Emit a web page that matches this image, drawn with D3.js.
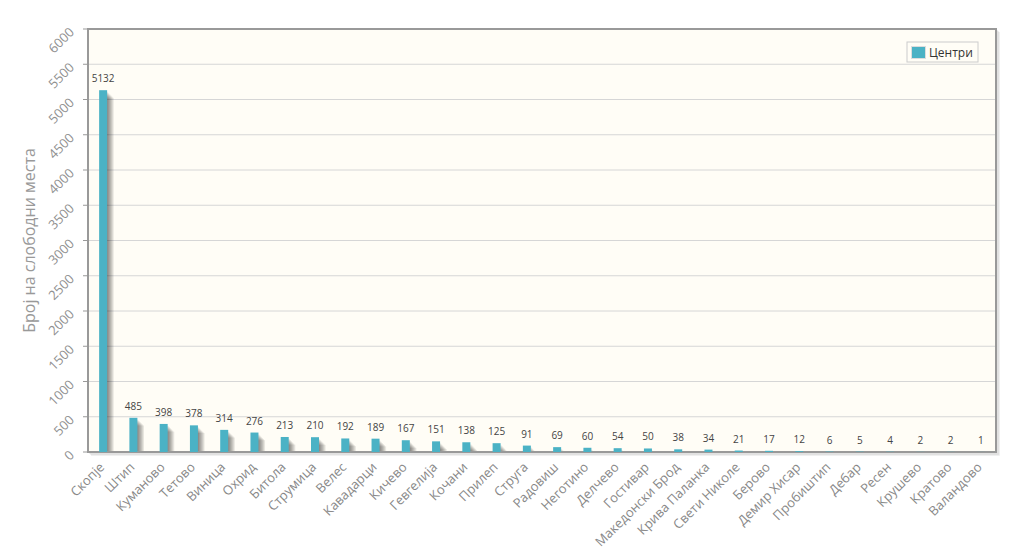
<!DOCTYPE html>
<html><head><meta charset="utf-8">
<script src="https://cdn.jsdelivr.net/npm/d3@7"></script>
<style>body{margin:0;background:#fff;} svg{display:block;font-family:"Open Sans",sans-serif;}</style>
</head><body><svg id="c" width="1024" height="550"></svg>
<script>
const categories = ["Скопје","Штип","Куманово","Тетово","Виница","Охрид","Битола","Струмица","Велес","Кавадарци","Кичево","Гевгелија","Кочани","Прилеп","Струга","Радовиш","Неготино","Делчево","Гостивар","Македонски Брод","Крива Паланка","Свети Николе","Берово","Демир Хисар","Пробиштип","Дебар","Ресен","Крушево","Кратово","Валандово"];
const values = [5132,485,398,378,314,276,213,210,192,189,167,151,138,125,91,69,60,54,50,38,34,21,17,12,6,5,4,2,2,1];
const yTicks = [0,500,1000,1500,2000,2500,3000,3500,4000,4500,5000,5500,6000];
const seriesName = "Центри";
const yTitle = "Број на слободни места";

const svg = d3.select("#c");
const L=88, T=29, R=996, B=452;
const x = d3.scaleBand().domain(categories).range([L,R]);
const y = d3.scaleLinear().domain([0,6000]).range([B,T]);
const color = "#4bb2c5";

// plot background
svg.append("rect").attr("x",L).attr("y",T).attr("width",R-L).attr("height",B-T).attr("fill","#fffdf6");

// grid
svg.append("g").selectAll("line").data(yTicks.slice(1,-1)).join("line")
  .attr("x1",L).attr("x2",R).attr("y1",d=>y(d)).attr("y2",d=>y(d))
  .attr("stroke","#d6d6d6").attr("stroke-width",1);

const bw = 8;
const cx = d => x(d)+x.bandwidth()/2;

// bar shadows
const sh = svg.append("g");
for(let i=1;i<=6;i++){
  sh.selectAll(null).data(categories).join("rect")
    .attr("x",d=>cx(d)-bw/2+i*1.1).attr("width",bw)
    .attr("y",(d,j)=>Math.min(B,y(values[j])+1+i*1.1)).attr("height",(d,j)=>Math.max(0,B-y(values[j])-1-i*1.1))
    .attr("fill","#000").attr("fill-opacity",0.09);
}

// border shadow
for(let i=1;i<=3;i++){
  svg.append("path").attr("d",`M${L+i},${B+i}H${R+i}V${T+i}`).attr("fill","none")
    .attr("stroke","#000").attr("stroke-opacity",0.08).attr("stroke-width",1.5);
}
svg.append("rect").attr("x",L).attr("y",T).attr("width",R-L).attr("height",B-T)
  .attr("fill","none").attr("stroke","#999").attr("stroke-width",2);

// bars
svg.append("g").selectAll("rect").data(categories).join("rect")
  .attr("x",d=>cx(d)-bw/2).attr("width",bw)
  .attr("y",(d,j)=>y(values[j])).attr("height",(d,j)=>B-y(values[j]))
  .attr("fill",color);

// value labels
svg.append("g").selectAll("text").data(categories).join("text")
  .attr("x",d=>cx(d)).attr("y",(d,j)=>y(values[j])-8)
  .attr("text-anchor","middle").attr("font-size",10).attr("fill","#444")
  .text((d,j)=>values[j]);

// y axis ticks & labels
const ya = svg.append("g");
ya.selectAll("line").data(yTicks).join("line")
  .attr("x1",L-5).attr("x2",L).attr("y1",d=>y(d)).attr("y2",d=>y(d)).attr("stroke","#999");
ya.selectAll("text").data(yTicks).join("text")
  .attr("transform",d=>`translate(${L-13},${y(d)+4}) rotate(-45)`)
  .attr("text-anchor","end").attr("font-size",13).attr("fill","#8f8f8f").text(d=>d);

// x labels
svg.append("g").selectAll("text").data(categories).join("text")
  .attr("transform",d=>`translate(${cx(d)+2},${B+16}) rotate(-45)`)
  .attr("text-anchor","end").attr("font-size",13).attr("fill","#888").text(d=>d);

// y title
svg.append("text").attr("transform",`translate(35,${(T+B)/2}) rotate(-90)`)
  .attr("text-anchor","middle").attr("font-size",16).attr("fill","#999").text(yTitle);

// legend
const lg = svg.append("g");
lg.append("rect").attr("x",907).attr("y",42).attr("width",71).attr("height",20)
  .attr("fill","#fffdf6").attr("stroke","#ccc");
lg.append("rect").attr("x",911.5).attr("y",46.5).attr("width",14).attr("height",12)
  .attr("fill",color).attr("stroke","#ddd");
lg.append("text").attr("x",929).attr("y",57).attr("font-size",12).attr("fill","#333").text(seriesName);
</script></body></html>
